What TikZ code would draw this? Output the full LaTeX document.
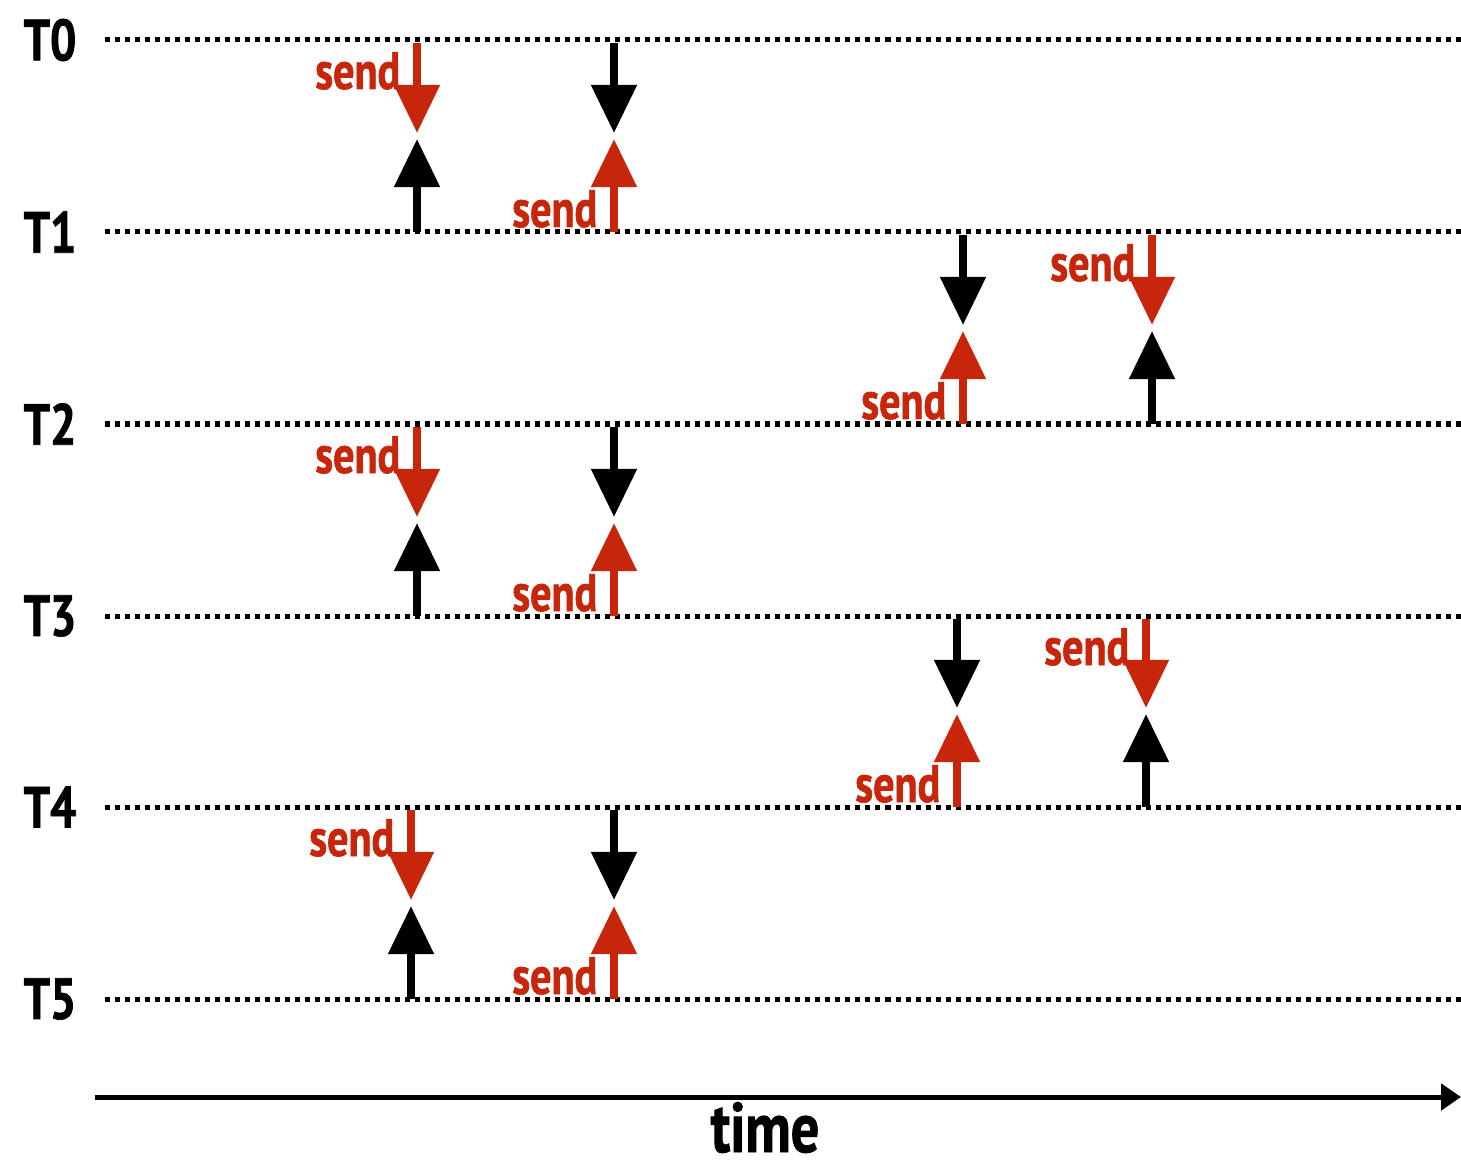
\documentclass[tikz,border=0pt]{standalone}
\usepackage{fontspec}
\setmainfont{PT Sans}[FakeStretch=0.8, BoldFeatures={FakeBold=1.2}]
\usetikzlibrary{arrows.meta}
\definecolor{sendred}{RGB}{200,38,10}
\tikzset{
  thr/.style={font=\fontsize{16.5}{16}\selectfont\bfseries, inner sep=0pt},
  rowline/.style={line width=0.05cm, dash pattern=on 0.05cm off 0.05cm},
  msg/.style={line width=0.08cm, -{Triangle[width=0.44cm,length=0.48cm]}},
  sendlbl/.style={font=\fontsize{15}{15}\selectfont\bfseries, text=sendred, inner sep=0pt, anchor=base east},
  axis/.style={line width=0.05cm, -{Triangle[width=0.26cm,length=0.2cm]}}
}
\begin{document}
\begin{tikzpicture}[x=0.01cm,y=-0.01cm]
\useasboundingbox (0,0) rectangle (1461,1167);

\foreach \i/\y in {0/40,1/232,2/424,3/616,4/807,5/999}{
  \node[thr] (t\i) at (50,\y) {T\i};
  \coordinate (l\i) at (105,\y);
  \coordinate (r\i) at (1461,\y);
  \draw[rowline] (l\i)--(r\i);
}

% k=0: send goes down, k=1: send goes up
\foreach \x/\a/\b/\k [count=\n] in {417/40/232/0,614/40/232/1,963/232/424/1,1152/232/424/0,
    417/424/616/0,614/424/616/1,957/616/807/1,1146/616/807/0,411/807/999/0,614/807/999/1}{
  \pgfmathtruncatemacro\m{(\a+\b)/2}
  \coordinate (top\n) at (\x,\a+3);
  \coordinate (bot\n) at (\x,\b);
  \coordinate (dn\n) at (\x,\m-3);
  \coordinate (up\n) at (\x,\m+3);
  \ifnum\k=0
    \draw[msg,sendred] (top\n)--(dn\n);
    \draw[msg] (bot\n)--(up\n);
    \node[sendlbl] (s\n) at (\x-16,\a+49) {send};
  \else
    \draw[msg] (top\n)--(dn\n);
    \draw[msg,sendred] (bot\n)--(up\n);
    \node[sendlbl] (s\n) at (\x-16,\b-5) {send};
  \fi
}

\coordinate (a0) at (95,1097);
\coordinate (a1) at (1461,1097);
\draw[axis] (a0)--(a1);
\node[thr, font=\fontsize{20}{20}\selectfont\bfseries, anchor=base] (time) at (765,1152) {time};
\end{tikzpicture}
\end{document}
